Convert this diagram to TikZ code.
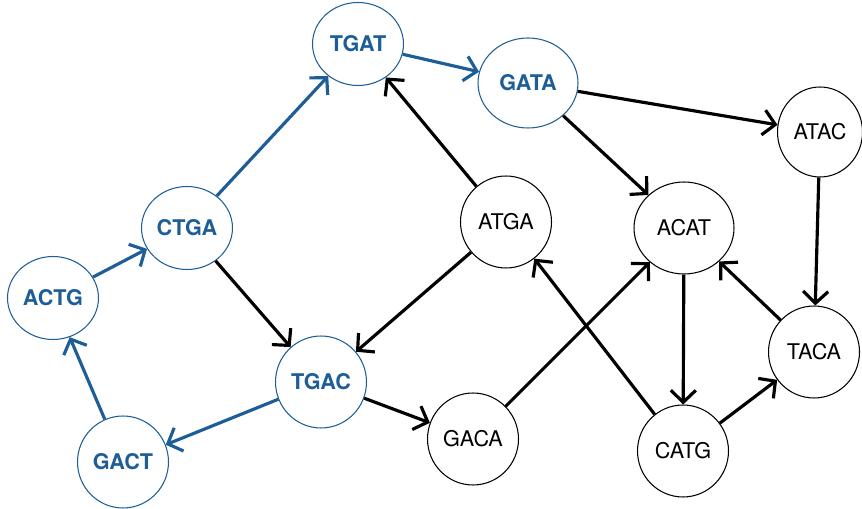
\documentclass[tikz,border=0pt]{standalone}
\usepackage{fontspec}
\setmainfont{TeX Gyre Heros}
\usetikzlibrary{arrows.meta,shapes.geometric}
\definecolor{pathblue}{HTML}{1D5E97}
\tikzset{
  kmer/.style={ellipse,draw=black,line width=.6pt,fill=white,
    minimum width=18.2mm,minimum height=18.4mm,inner sep=0pt,
    font=\fontsize{12.3}{14}\selectfont},
  pathkmer/.style={kmer,draw=pathblue,text=pathblue,
    font=\fontsize{12.3}{14}\selectfont\bfseries},
  flat/.style={minimum height=16.6mm},
  wide/.style={minimum width=20mm},
  edge/.style={-{Straight Barb[length=2.4mm,width=5mm]},draw=black,line width=1.8pt},
  pathedge/.style={edge,draw=pathblue},
}
\begin{document}
\begin{tikzpicture}[x=0.02cm,y=-0.02cm]
\useasboundingbox (0,0) rectangle (862,509);
% eulerian path nodes
\node[pathkmer,flat] (tgat) at (358,44) {TGAT};
\node[pathkmer,wide,minimum height=18mm] (gata) at (528,83) {GATA};
\node[pathkmer,flat] (ctga) at (187,228) {CTGA};
\node[pathkmer,flat] (actg) at (53,298) {ACTG};
\node[pathkmer] (tgac) at (321,382) {TGAC};
\node[pathkmer] (gact) at (123,462) {GACT};
% remaining nodes
\node[kmer,minimum width=17mm,minimum height=18mm] (atac) at (820,132) {ATAC};
\node[kmer] (atga) at (506,222) {ATGA};
\node[kmer,wide] (acat) at (684,228) {ACAT};
\node[kmer] (taca) at (814,352) {TACA};
\node[kmer] (gaca) at (473,439) {GACA};
\node[kmer] (catg) at (683,451) {CATG};
% blue edges
\draw[pathedge] (gact) -- (actg);
\draw[pathedge] (actg) -- (ctga);
\draw[pathedge] (ctga) -- (tgat);
\draw[pathedge] (tgat) -- (gata);
\draw[pathedge] (tgac) -- (gact);
% black edges
\draw[edge] (ctga) -- (tgac);
\draw[edge] (atga) -- (tgat);
\draw[edge] (atga) -- (tgac);
\draw[edge] (gata) -- (acat);
\draw[edge] (gata) -- (atac);
\draw[edge] (atac) -- (taca);
\draw[edge] (tgac) -- (gaca);
\draw[edge] (gaca) -- (acat);
\draw[edge] (acat) -- (catg);
\draw[edge] (catg) -- (taca);
\draw[edge] (taca) -- (acat);
\draw[edge] (catg) -- (atga);
\end{tikzpicture}
\end{document}
